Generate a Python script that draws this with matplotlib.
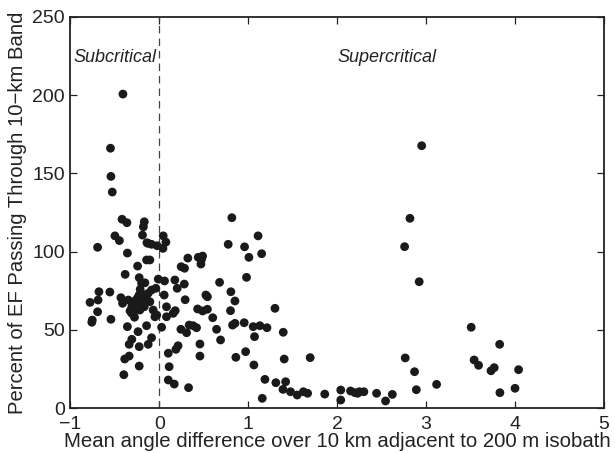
import matplotlib
matplotlib.use("Agg")
import matplotlib.pyplot as plt

plt.rcParams['font.family'] = ['Liberation Sans', 'DejaVu Sans']

angle_diff = [
    -0.41, -0.55, -0.545, -0.53, -0.42, -0.365, -0.17, -0.18, -0.50, -0.45,
    -0.695, -0.36, -0.19, -0.14, -0.126, -0.088, -0.025, 0.04, 0.043, 0.073,
    -0.144, -0.107, -0.245, -0.385, -0.227, -0.013, 0.058, -0.163, -0.216, -0.04,
    -0.088, -0.126, -0.17, -0.68, -0.557, -0.78, -0.69, -0.695, -0.755, -0.76,
    -0.545, -0.433, -0.414, -0.35, -0.295, -0.256, -0.31, -0.275, -0.31, -0.22,
    -0.17, -0.107, -0.07, -0.03, 0.054, 0.08, 0.08, 0.025, -0.36, -0.24,
    -0.144, -0.088, -0.126, -0.31, -0.34, -0.227, -0.34, -0.39, -0.227, -0.40,
    0.1, 0.11, 0.1, -0.2, -0.05, -0.25, -0.2, -0.28, -0.23, -0.15, -0.33,
    0.815, 0.774, 0.958, 1.11, 1.15, 1.007, 0.32, 0.437, 0.486, 0.474,
    0.467, 0.245, 0.283, 0.98, 0.174, 0.2, 0.28, 0.677, 0.804, 0.85,
    0.523, 0.54, 0.29, 0.178, 0.155, 0.43, 0.486, 0.54, 0.6, 0.80,
    1.3, 0.242, 0.306, 0.335, 0.38, 0.418, 0.643, 0.688, 0.823, 0.85,
    0.954, 1.055, 1.13, 1.21, 1.07, 0.456, 0.21, 0.186, 0.456, 0.97,
    0.86, 1.063, 0.167, 0.328, 1.187, 1.31, 1.157,
    1.393, 1.404, 1.696, 1.42, 1.39, 1.475, 1.55, 1.62, 1.667, 1.86,
    2.04, 2.04, 2.15, 2.2, 2.25, 2.30, 2.23, 2.443, 2.544, 2.62,
    2.95, 2.818, 2.758, 2.922, 3.507, 3.827, 2.765, 3.54, 3.59, 2.87,
    3.73, 3.766, 4.04, 3.118, 2.89, 3.83, 4.0,
]
percent_ef = [
    200.6, 166, 148, 138, 120.6, 118.4, 119, 115.8, 110, 107,
    102.7, 99, 110.5, 105.6, 105.2, 104.6, 103.7, 102, 110, 106,
    94.6, 94.6, 90.7, 85.4, 83.3, 82.4, 81.2, 80, 75.8, 76.5,
    75.4, 73.3, 72.2, 74.3, 74.1, 67.5, 69, 61.5, 56.2, 54.8,
    56.7, 70.5, 66.9, 69, 67.9, 66.9, 64.7, 62.6, 60.5, 62.6,
    64.7, 67.9, 62.6, 59.4, 72.2, 64.7, 58.3, 51.6, 52, 48.8,
    52.6, 44.9, 40.7, 43.9, 40.7, 39.2, 33.2, 31.3, 26.8, 21.3,
    35, 26.4, 17.9, 79.7, 58.3, 70, 68, 58, 72, 70, 62,
    121.6, 104.6, 103, 110, 98.6, 96.3, 95.8, 96.3, 97.1, 95,
    92, 90.3, 89.3, 83.5, 81.8, 76.5, 79.2, 80.3, 74.3, 68.4,
    72.2, 71.1, 69.2, 62.2, 60.5, 63.3, 62, 63.1, 57.7, 62.2,
    63.7, 50.3, 48.1, 53, 52.6, 51.3, 50.3, 43.5, 53, 54.1,
    54.5, 52, 52.6, 51.3, 45.6, 40.9, 39.8, 37.5, 33.2, 36,
    32.4, 27.5, 15.3, 13, 18.3, 16.2, 6.2,
    48.4, 31.3, 32.2, 16.8, 11.9, 10.4, 8.3, 10.4, 9.4, 8.9,
    11.5, 5.1, 10.9, 9.8, 10.4, 10.4, 9.4, 9.4, 4.5, 8.7,
    167.6, 121.2, 103.1, 80.7, 51.6, 40.7, 32, 30.7, 27.3, 23.2,
    23.8, 25.8, 24.5, 15.1, 11.7, 9.8, 12.6,
]

x_ticks = [-1, 0, 1, 2, 3, 4, 5]
y_ticks = [0, 50, 100, 150, 200, 250]

fig = plt.figure(figsize=(6.15, 4.53), dpi=100)
ax = fig.add_axes([0.1146, 0.0993, 0.982 - 0.1146, 0.963 - 0.0993])

ax.scatter(angle_diff, percent_ef, s=40, c='#1a1a1a', edgecolors='none', zorder=3)
ax.axvline(0, color='#444444', linestyle=(0, (6, 4)), linewidth=0.9, zorder=2)

ax.text(-0.503, 224, 'Subcritical', style='italic', fontsize=13, ha='center', va='center', color='#222222')
ax.text(2.56, 224, 'Supercritical', style='italic', fontsize=13, ha='center', va='center', color='#222222')

ax.set_xlim(-1, 5)
ax.set_ylim(0, 250)
ax.set_xticks(x_ticks)
ax.set_yticks(y_ticks)
ax.tick_params(direction='in', length=5, width=0.9, top=True, right=True,
               labelsize=14, colors='#222222')
ax.tick_params(axis='x', pad=6)
ax.tick_params(axis='y', pad=4)
for s in ax.spines.values():
    s.set_linewidth(1.3)
    s.set_color('#222222')

ax.set_xlabel('Mean angle difference over 10 km adjacent to 200 m isobath', fontsize=14.7,
              labelpad=-1, color='#222222')
ax.set_ylabel('Percent of EF Passing Through 10\u2212km Band', fontsize=14.6, labelpad=4,
              color='#222222')

fig.savefig('out.png', dpi=100)
